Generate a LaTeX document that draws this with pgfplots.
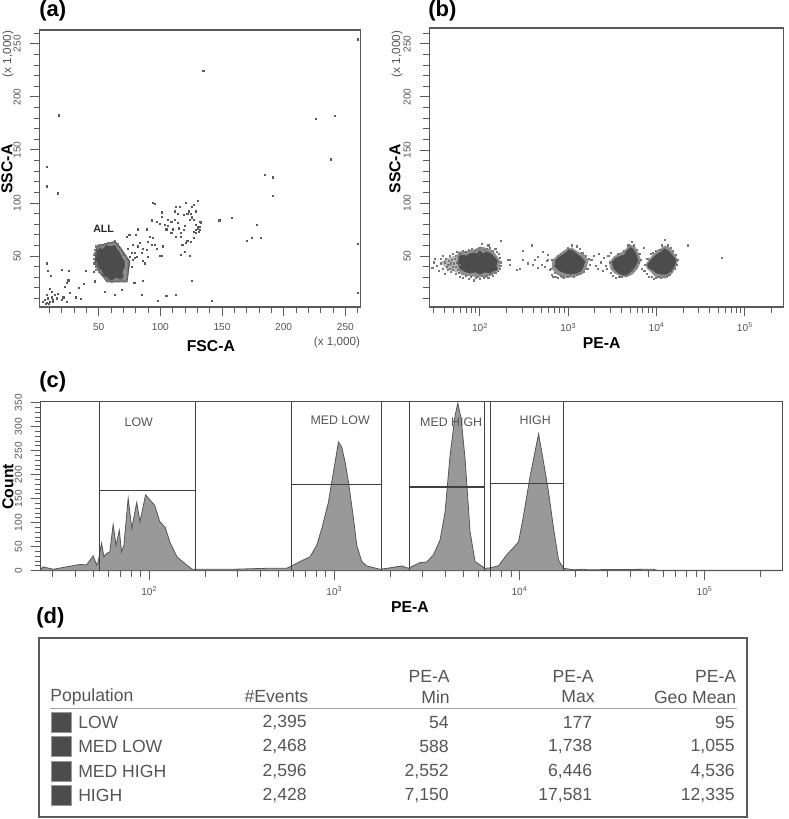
\documentclass[border=0pt]{standalone}
\usepackage{fontspec}
\setmainfont{Liberation Sans}
\usepackage{pgfplots}
\pgfplotsset{compat=1.18}

\definecolor{ink}{HTML}{555555}
\definecolor{frame}{HTML}{5a5a5a}
\definecolor{blob}{HTML}{4c4c4c}
\definecolor{halo}{HTML}{8f8f8f}
\definecolor{fringe}{HTML}{777777}
\definecolor{histfill}{HTML}{999999}

\newcommand{\panel}{\fontsize{16.5}{18}\selectfont\bfseries}
\newcommand{\alabel}{\fontsize{11.8}{13}\selectfont\bfseries}
\newcommand{\tlabel}{\fontsize{7.6}{9}\selectfont\color{ink}}
\newcommand{\slabel}{\fontsize{8.8}{10}\selectfont\color{ink}}
\newcommand{\rowfont}{\fontsize{13.2}{15}\selectfont\color{ink}}

\pgfplotsset{
  flow/.style={
    scale only axis,
    axis line style={draw=frame,line width=0.9pt},
    tick pos=left,
    tick align=outside,
    major tick length=7pt,
    minor tick length=4.5pt,
    every tick/.style={draw=frame,line width=0.7pt},
    tick label style={font=\tlabel},
    y tick label style={rotate=90,anchor=south},
    yticklabel shift=3.5pt,
    xticklabel shift=1.5pt,
    /pgf/number format/assume math mode=true,
    label style={font=\alabel},
    clip=false,
  },
  logpe/.style={
    xtick={100,1000,10000,100000},
    xticklabels={10\textsuperscript{2},10\textsuperscript{3},10\textsuperscript{4},10\textsuperscript{5}},
    minor xtick={30,40,50,60,70,80,90,200,300,400,500,600,700,800,900,2000,3000,4000,5000,6000,7000,8000,9000,20000,30000,40000,50000,60000,70000,80000,90000,200000},
  },
  ev/.style={only marks,mark=square*,mark size=0.42pt,color=#1,mark options={solid,line width=0pt}},
  gate/.style={draw=black!75,line width=0.8pt},
}

\begin{document}
\begin{tikzpicture}
\path[use as bounding box] (0,0) rectangle (591.75pt,-614.25pt);
\begin{scope}[x=0.75pt,y=-0.75pt]
  \coordinate (posa) at (39.5,307);
  \coordinate (posb) at (429.3,307);
  \coordinate (posc) at (40.7,570.7);
\end{scope}

% (a) FSC-A / SSC-A
\begin{axis}[flow,at={(posa)},anchor=south west,
  width=240.75pt,height=207.75pt,
  xmin=2,xmax=262.3,ymin=2,ymax=263,
  xtick={50,100,150,200,250},minor xtick={10,20,...,260},
  ytick={50,100,150,200,250},minor ytick={10,20,...,260},
  xlabel={FSC-A},ylabel={SSC-A},
  x label style={at={(axis description cs:0.534,-0.14)},anchor=center},
  y label style={at={(axis description cs:-0.101,0.498)},anchor=center},
]
% gate and dense population
\addplot[fill=halo,draw=frame,line width=1.1pt] coordinates {
  (48.4,59)(63.2,63.6)(67.8,57.3)(75,44.8)(72.8,25.9)(57,25.9)(50.5,35.3)(47,43.2)} -- cycle;
\addplot[fill=blob,draw=blob] coordinates {
  (49,55)(51,58)(53,56)(56,60)(60,59)(63,60)(65,56)(67,53)(69,48)(71,45)(71,40)(69,35)
  (70,31)(68,28)(64,30)(60,27)(57,30)(54,32)(53,36)(51,38)(49,42)(48,47)} -- cycle;
\addplot[ev=fringe] coordinates {
  (47,56)(48,59)(50,60)(52,60)(55,61)(58,62)(61,62)(63,64)(65,60)(66,61)(67,57)(69,54)
  (70,51)(72,49)(73,46)(74,43)(73,38)(74,34)(73,30)(72,27)(70,27)(67,27)(64,27)(61,26)
  (58,27)(56,28)(54,30)(52,33)(50,35)(48,37)(48,40)(46,43)(46,47)(46,51)(47,53)};
% scattered events
\addplot[ev=black!65] coordinates {
  (260,254)(135,224)(18,182.5)(226,179)(241.6,181.6)(238.6,141)(8,134)(8,115.5)(17,109)
  (185,126)(191,124)(191,107)(260,61)(260,15)(148,83.5)(158,85.6)(178.6,79)(170,64.6)
  (174.6,67)(181.6,67)(125.6,26.5)(142,7.7)(112.5,13.6)(105,12.7)(98.4,7.7)(85,13)(86,26.5)
  (79,24.3)(69,18)(63,13.6)(55,16)
  (8,43)(9,36)(11,31)(20,37)(26,36)(25.5,27)(24,25)(23,20.5)(27,15.5)(34,19.6)(38,24)(40,36)
  (47,26)(46,35)(10.5,18.6)(12,16.5)(8,13)(5,7)(8,6)(10.5,7)(13,8.6)(14.5,13)(17,14)(20,8.6)
  (24,7)(31.5,11)(36,9.5)(9,10)(6.5,8.6)(12,11)(16,10)(7,5)(10,5)(13,7)(21.5,11)
  (72.7,68)(75,70)(80,70)(82,75)(78,60.5)(74,57)(76.7,52.6)(79.5,48)(83.5,62)(86,57)(90,63.6)
  (94,67)(89,75)(93,60.5)(97,57)(102,59)(100,50)(101.5,50)(90,49.5)(86,45)(81,49.5)(77,40)
  (79.5,52.6)(89,56)(95.6,60.5)(85,52.6)(91.6,68)(82,59)(75.4,49.5)(77.5,46)(87.6,43)
  (94,100)(96,99)(101.6,91)(101.6,87)(93,83.5)(97,82.5)(100,80)(104,79)(106.5,78)(109,82.5)
  (112,84)(105,75)(110.5,75)(109,71.5)(113,96.6)(115.6,96)(114.6,90)(112,92)(122,90)(123,92)
  (126,96.6)(127.6,98)(130.6,102)(129,92)(125.6,85.6)(124,84)(127.6,84)(129,79)(132,82.5)
  (133,81)(130.6,76)(129,71.5)(132,74.6)(127.5,67)(125,63.6)(121,62)(118,60.5)(122,64.6)
  (116.6,71.5)(115,76)(119,74.6)(120,78)(117,51)(120,54)(124,50)(113,68)(116.6,68)(114.6,81)
  (106.5,84)(121,100)(130.6,77)(132,77)(133,82.5)(128.6,74.6)(127,73)(131,73)(119,89)(125,90)
  (126,87)};
\node[font=\fontsize{8}{9}\selectfont\bfseries,text=black!85] at (axis cs:54,75.5) {ALL};
\end{axis}

% (b) PE-A / SSC-A
\begin{axis}[flow,xmode=log,logpe,at={(posb)},anchor=south west,
  width=265.5pt,height=209.25pt,
  xmin=26.7,xmax=272000,ymin=2,ymax=265,
  ytick={50,100,150,200,250},minor ytick={10,20,...,260},
  xlabel={PE-A},ylabel={SSC-A},
  x label style={at={(axis description cs:0.487,-0.129)},anchor=center},
  y label style={at={(axis description cs:-0.097,0.495)},anchor=center},
]
% speckled edges of the populations
\addplot[fill=black!27,draw=none] coordinates {
  (36,44)(42,48)(50,50)(57,52)(57,34)(48,36)(42,38)} -- cycle;
\addplot[fill=halo,draw=none] coordinates {
  (56,54)(70,55)(85,56)(100,59)(115,58)(135,56)(150,52)(168,46)(170,40)(150,34)(125,31)(100,30)(80,31)(62,32)(56,38)} -- cycle;
\addplot[fill=halo,draw=none] coordinates {
  (660,46)(760,51)(860,54)(950,57)(1100,58)(1300,54)(1500,52)(1700,46)(1600,38)(1450,33)(1150,30)(900,30)(760,32)(650,38)} -- cycle;
\addplot[fill=halo,draw=none] coordinates {
  (2900,44)(3300,50)(3900,53)(4400,56)(5000,61)(5700,59)(6300,52)(6700,46)(6100,38)(5400,33)(4600,30)(3900,31)(3300,34)(3000,38)} -- cycle;
\addplot[fill=halo,draw=none] coordinates {
  (7500,42)(8200,47)(9200,52)(10200,55)(11500,58)(12500,60)(14000,58)(15500,54)(17500,46)(16500,39)(14800,33)(13000,29)(11000,29)(9500,31)(8600,35)(7800,38)} -- cycle;
% dense cores
\addplot[fill=blob,draw=blob] coordinates {
  (58,50)(64,51)(70,50)(76,52)(85,53)(92,52)(100,55)(108,52)(118,54)(128,53)(138,51)(150,48)
  (158,45)(152,41)(158,37)(142,36)(128,34)(115,35)(100,33)(88,35)(76,34)(66,36)(60,38)(57,42)} -- cycle;
\addplot[fill=blob,draw=blob] coordinates {
  (720,46)(790,49)(860,51)(940,53)(1010,56)(1130,55)(1250,52)(1390,49)(1540,45)(1480,40)
  (1400,36)(1250,34)(1080,33)(930,34)(800,36)(710,40)} -- cycle;
\addplot[fill=blob,draw=blob] coordinates {
  (3120,44)(3450,48)(3900,50)(4300,51)(4600,55)(5100,58)(5500,56)(5900,51)(6150,46)(5800,41)
  (5300,37)(4800,33)(4200,32)(3700,34)(3300,38)} -- cycle;
\addplot[fill=blob,draw=blob] coordinates {
  (7900,42)(8400,45)(9300,49)(10200,52)(11300,54)(12200,57)(13500,55)(15000,51)(16600,46)
  (16000,41)(14600,36)(13000,33)(11500,33)(10000,34)(9000,37)(8100,39)} -- cycle;
\addplot[ev=fringe] coordinates {
  (30,44)(29,39)(31,47)(33,41)(34,36)(36,43)(36,47)(38,38)(38,50)(40,44)(40,33)(41,47)(42,40)
  (43,37)(44,42)(45,45)(46,38)(46,50)(47,35)(47,43)(48,46)(49,40)(50,52)(50,37)(51,43)(52,47)
  (53,33)(53,40)(54,50)(55,44)(55,54)(56,37)(57,47)(58,34)(59,52)(60,42)
  (60,30)(65,29)(70,31)(75,28)(80,30)(85,27)(90,29)(95,30)(100,28)(105,31)(110,29)(115,30)
  (120,31)(125,29)(130,32)(135,33)(140,31)(150,34)(160,36)(170,38)(172,44)(175,41)(168,48)
  (165,52)(155,54)(150,57)(140,55)(130,58)(125,60)(120,57)(112,56)(105,61)(100,58)(95,56)
  (88,55)(82,57)(75,56)(70,54)(64,55)(60,53)(173,64)
  (385,60)(310,55)(310,46)(350,43)(283,37.5)(260,37)(218,41.5)(218,46)(209,46)(420,46)(457,49.5)
  (403,41.6)(499,41.6)(457,38.5)(545,40)(520,54)(595,51)(620,37)(648,32)(569,45)(595,46)(648,46)
  (640,38)(680,30)(700,34)(730,30)(770,29)(820,31)(860,30)(900,29)(980,30)(1050,31)(1150,30)
  (1250,32)(1350,33)(1500,35)(1650,38)(1750,42)(1700,47)(1600,50)(1450,53)(1350,57)(1250,59)
  (1100,60)(1000,58)(900,54)(820,52)(760,50)(670,46)(690,41)
  (1830,46)(1950,50)(2050,41)(2150,38)(2250,52)(2350,44)(2450,36)(2550,48)(2650,41)(2750,38)
  (2850,50)(2950,44)(3050,34)(3050,53)(3200,31)(3500,29)(3800,30)(4100,30)(4500,31)(4900,33)
  (5400,36)(5900,40)(6300,44)(6600,46)(6400,52)(6000,56)(5600,60)(5300,63)(4800,60)(4300,55)
  (3700,52)(7200,58)(6800,38)
  (7300,36)(7400,42)(7700,33)(7900,47)(8200,30)(8600,52)(8900,30)(9400,28)(9900,29)(10500,30)
  (11200,29)(12000,31)(13000,31)(14000,32)(15000,35)(16200,38)(17200,42)(17400,46)(16600,51)
  (15500,55)(14500,58)(13500,60)(12500,65)(11500,60)(10800,56)(9800,55)(9200,53)
  (22800,60)(54400,48)};
\end{axis}

% (c) PE-A histogram
\begin{axis}[flow,xmode=log,logpe,at={(posc)},anchor=south west,
  width=556.2pt,height=126.75pt,
  xmin=25.9,xmax=263000,ymin=0,ymax=352,
  ytick={0,50,100,150,200,250,300,350},minor ytick={10,20,...,350},
  xlabel={PE-A},ylabel={Count},
  x label style={at={(axis description cs:0.498,-0.213)},anchor=center},
  y label style={at={(axis description cs:-0.044,0.497)},anchor=center},
  axis line style={draw=black!70,line width=0.8pt},
]
\addplot[fill=histfill,draw=ink,line width=0.6pt] coordinates {
  (25.9,3)(26.7,8)(30.3,3)(35.7,8)(42.2,13)(45.8,12)(49.8,31)(51.9,12)(53,19)(55.2,57)(56.9,29)
  (58.7,36)(61.2,39)(63.8,96)(66.1,53)(68.9,84)(70.8,39)(72.9,53)(76.9,151)(80.4,88)(85.5,142)
  (89.1,102)(95.5,158)(101,147)(107,136)(114,102)(122,90)(129,60)(141,29)(159,12)(171,3)
  (204,3)(284,3)(431,5)(552,5)(588,10)(652,19)(738,29)(803,53)(855,88)(929,143)(968,185)(1009,226)
  (1052,268)(1096,257)(1143,226)(1191,185)(1268,109)(1321,53)(1406,19)(1496,10)(1766,3)
  (2000,6)(2312,10)(2512,5)(2904,17)(3155,18)(3428,33)(3724,64)(3963,122)(4217,240)(4487,323)
  (4645,349)(4842,316)(5082,233)(5408,81)(5754,19)(6516,5)(6934,6)(7691,10)(8531,33)(9268,48)
  (9886,60)(10520,115)(11430,198)(12680,285)(13490,226)(14350,164)(15280,88)(16260,22)(17300,5)
  (19590,2)(22180,3)(23120,2)(52970,3)(55210,1)(263000,1)} \closedcycle;
% gates
\addplot[gate] coordinates {(54,0)(54,352)};
\addplot[gate] coordinates {(177,0)(177,352)};
\addplot[gate] coordinates {(54,166.8)(177,166.8)};
\addplot[gate] coordinates {(588,0)(588,352)};
\addplot[gate] coordinates {(1795,0)(1795,352)};
\addplot[gate] coordinates {(588,179.9)(1795,179.9)};
\addplot[gate] coordinates {(2552,0)(2552,352)};
\addplot[gate] coordinates {(6500,0)(6500,352)};
\addplot[gate] coordinates {(2552,174.4)(6500,174.4)};
\addplot[gate] coordinates {(7000,0)(7000,352)};
\addplot[gate] coordinates {(17300,0)(17300,352)};
\addplot[gate] coordinates {(7000,181.3)(17300,181.3)};
\node[font=\fontsize{9.3}{10}\selectfont,text=ink] at (axis cs:87.7,309) {LOW};
\node[font=\fontsize{9.3}{10}\selectfont,text=ink] at (axis cs:1074,312.6) {MED LOW};
\node[font=\fontsize{9.3}{10}\selectfont,text=ink] at (axis cs:4275,310) {MED HIGH};
\node[font=\fontsize{9.3}{10}\selectfont,text=ink] at (axis cs:12160,312.7) {HIGH};
\end{axis}

\begin{scope}[x=0.75pt,y=-0.75pt]
  % panel letters and scale notes
  \node[anchor=west,inner sep=0pt,font=\panel] at (39,11) {(a)};
  \node[anchor=west,inner sep=0pt,font=\panel] at (428,11) {(b)};
  \node[anchor=west,inner sep=0pt,font=\panel] at (39,381.7) {(c)};
  \node[anchor=west,inner sep=0pt,font=\panel] at (36,618) {(d)};
  \node[rotate=90,inner sep=0pt,font=\slabel] at (8,54) {(x 1,000)};
  \node[rotate=90,inner sep=0pt,font=\slabel] at (397,54) {(x 1,000)};
  \node[inner sep=0pt,font=\slabel] at (337,342) {(x 1,000)};

  % (d) statistics table
  \draw[frame,line width=1.1pt] (39,638) rectangle (747,817);
  \draw[black!35,line width=1.1pt] (50,708.7) -- (736.5,708.7);
  \foreach \xr in {450,594,736.5}
    \node[anchor=east,inner sep=0pt,font=\rowfont] at (\xr,676) {PE-A};
  \node[anchor=west,inner sep=0pt,font=\rowfont] at (50,697) {Population};
  \node[anchor=east,inner sep=0pt,font=\rowfont] at (308.5,697) {\#Events};
  \node[anchor=east,inner sep=0pt,font=\rowfont] at (450,697) {Min};
  \node[anchor=east,inner sep=0pt,font=\rowfont] at (595,697) {Max};
  \node[anchor=east,inner sep=0pt,font=\rowfont] at (736.5,697) {Geo Mean};
  \foreach \yy/\name/\ev/\mn/\mx/\gm in {
      722.7/LOW/{2,395}/54/177/95,
      746.7/MED LOW/{2,468}/588/{1,738}/{1,055},
      771.3/MED HIGH/{2,596}/{2,552}/{6,446}/{4,536},
      795/HIGH/{2,428}/{7,150}/{17,581}/{12,335}}{
    \filldraw[fill=blob,draw=black!40,line width=0.6pt] (51,\yy-10) rectangle (71.5,\yy+10);
    \node[anchor=west,inner sep=0pt,font=\rowfont] at (78,\yy) {\name};
    \node[anchor=east,inner sep=0pt,font=\rowfont] at (307,\yy) {\ev};
    \node[anchor=east,inner sep=0pt,font=\rowfont] at (449,\yy) {\mn};
    \node[anchor=east,inner sep=0pt,font=\rowfont] at (592.5,\yy) {\mx};
    \node[anchor=east,inner sep=0pt,font=\rowfont] at (735,\yy) {\gm};
  }
\end{scope}
\end{tikzpicture}
\end{document}
